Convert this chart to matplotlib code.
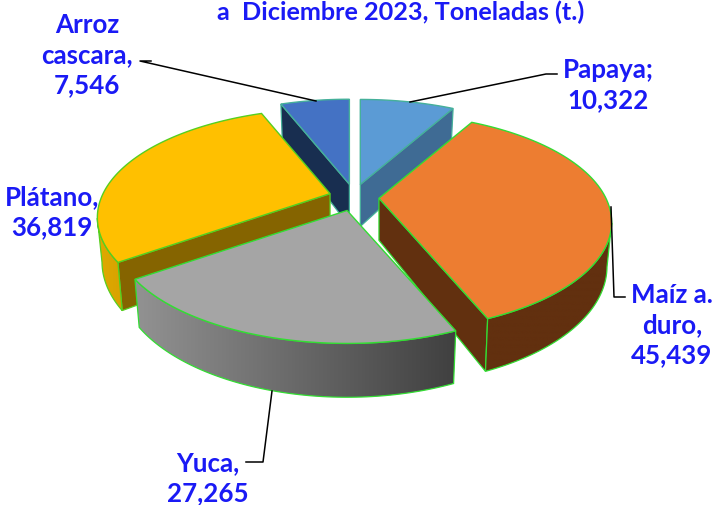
#!/usr/bin/env python3
# -*- coding: utf-8 -*-
# Pastel 3D separado, dibujado a mano con poligonos
import numpy as np
from matplotlib import pyplot as plt
from matplotlib.colors import to_rgb
from matplotlib.patches import Polygon

plt.rcParams["font.family"] = ["Lato", "DejaVu Sans"]

# datos, en orden horario desde las 12
nombres = ["Papaya", "Maíz a. duro", "Yuca", "Plátano", "Arroz cascara"]
toneladas = [10322, 45439, 27265, 36819, 7546]
titulo = "a  Diciembre 2023, Toneladas (t.)"
etiquetas = [
    "Papaya;\n10,322",
    "Maíz a.\nduro,\n45,439",
    "Yuca,\n27,265",
    "Plátano,\n36,819",
    "Arroz\ncascara,\n7,546",
]

# colores: cara superior, pared radial, pared exterior (izq. y der.), borde
c_top = ["#5b9bd5", "#ed7d31", "#a5a5a5", "#ffc000", "#4472c4"]
c_radial = ["#3f6b94", "#62300f", "#707070", "#856400", "#182e50"]
c_rim_l = ["#3f6b94", "#62300f", "#929292", "#e0aa00", "#182e50"]
c_rim_r = ["#3f6b94", "#62300f", "#404040", "#d8a200", "#182e50"]
c_edge = ["#45b09a", "#33dd33", "#33dd33", "#55d020", "#45b09a"]

# geometria de la proyeccion, en pixeles
CX, CY = 354, 198.5
EXPL_X, EXPL_Y = 25, 13.5
A, B, K, H = 227, 103.7, 0.22, 42
# orden de dibujo, de atras hacia adelante
orden = [4, 0, 3, 1, 2]


def proyecta(ax0, ay0, theta, r, z=0.0):
    x = r * np.sin(theta)
    y = r * np.cos(theta)
    s = 1 / (1 + K * y)
    return ax0 + A * x * s * (1 - 0.02 * z), ay0 - B * y * s + H * s * z


def dibuja_rebanada(ax, i, t0, t1, zo):
    mid = (t0 + t1) / 2
    ax0 = CX + EXPL_X * np.sin(mid)
    ay0 = CY - EXPL_Y * np.cos(mid)
    edge = c_edge[i]

    # paredes radiales visibles
    for t, visible in ((t0, np.sin(t0) < -1e-6), (t1, np.sin(t1) > 1e-6)):
        if visible:
            pts = [proyecta(ax0, ay0, t, r, z) for r, z in ((0, 0), (1, 0), (1, 1), (0, 1))]
            ax.add_patch(Polygon(pts, fc=c_radial[i], ec=edge, lw=0.9, zorder=zo))

    # pared exterior, solo la parte que mira al frente
    lim0, lim1 = np.radians(103), np.radians(257)
    r0, r1 = max(t0, lim0), min(t1, lim1)
    if r1 > r0:
        ts = np.linspace(r0, r1, 80)
        arriba = [proyecta(ax0, ay0, t, 1, 0) for t in ts]
        abajo = [proyecta(ax0, ay0, t, 1, 1) for t in ts]
        pts = np.array(arriba + abajo[::-1])
        pared = Polygon(pts, fc="none", ec=edge, lw=0.9, zorder=zo + 0.2)
        # degradado horizontal recortado a la pared
        grad = np.linspace(to_rgb(c_rim_l[i]), to_rgb(c_rim_r[i]), 128)[None, :, :]
        img = ax.imshow(
            grad,
            extent=(pts[:, 0].min(), pts[:, 0].max(), pts[:, 1].max(), pts[:, 1].min()),
            aspect="auto",
            interpolation="bilinear",
            zorder=zo + 0.1,
        )
        ax.add_patch(pared)
        img.set_clip_path(pared)

    # cara superior
    ts = np.linspace(t0, t1, 80)
    pts = [proyecta(ax0, ay0, t0, 0)] + [proyecta(ax0, ay0, t, 1) for t in ts]
    ax.add_patch(Polygon(pts, fc=c_top[i], ec=edge, lw=1.0, zorder=zo + 0.3))


fig = plt.figure(figsize=(7.14, 5.06), dpi=100)
ax = fig.add_axes([0, 0, 1, 1])
ax.axis("off")

total = sum(toneladas)
bordes = np.concatenate([[0], np.cumsum(toneladas)]) / total * 2 * np.pi
for n, i in enumerate(orden):
    dibuja_rebanada(ax, i, bordes[i], bordes[i + 1], n + 1)

ax.set_xlim(0, 714)
ax.set_ylim(506, 0)

# lineas guia
guias = [
    ([557, 546, 410], [75, 75, 103]),
    ([611, 614, 625], [208, 298, 298]),
    ([272, 263, 246], [392, 463, 463]),
    ([151, 140, 316], [62, 62, 102]),
]
for xs, ys in guias:
    ax.plot(xs, ys, color="black", lw=1.1, zorder=10)

# textos
AZUL = "#1a1af5"
FS = 18.6
pos_etiquetas = [(608, 85), (672, 325), (208, 478), (52, 212), (87, 55)]
for txt, (x, y) in zip(etiquetas, pos_etiquetas):
    ax.text(x, y, txt, color=AZUL, fontsize=FS, fontweight="bold",
            ha="center", va="center", linespacing=1.3, zorder=11)
ax.text(401, 12.5, titulo, color=AZUL, fontsize=18.2, fontweight="bold",
        ha="center", va="center", zorder=11)

fig.savefig("out.png", dpi=100)
